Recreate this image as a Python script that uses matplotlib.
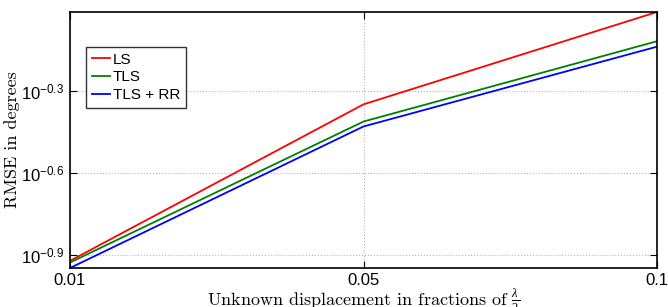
import matplotlib.pyplot as plt
import numpy as np

# valores (RMSE em graus)
displacements = ['0.01', '0.05', '0.1']
rmse_ls = [0.1197, 0.4477, 0.975]
rmse_tls = [0.1180, 0.3873, 0.762]
rmse_tls_rr = [0.1127, 0.3715, 0.728]
ytick_exps = [-0.9, -0.6, -0.3]

plt.rcParams['mathtext.fontset'] = 'custom'
plt.rcParams['mathtext.rm'] = 'Liberation Serif'
plt.rcParams['mathtext.it'] = 'Liberation Serif:italic'
plt.rcParams['mathtext.sf'] = 'Liberation Sans'
plt.rcParams['font.family'] = 'Liberation Sans'

fig = plt.figure(figsize=(6.68, 3.07), dpi=100)
ax = fig.add_axes([70 / 668, 1 - 268 / 307, 587 / 668, 256 / 307])

x = np.arange(len(displacements))
ax.plot(x, rmse_ls, color='#ff0000', lw=1.3, label='LS')
ax.plot(x, rmse_tls, color='#008000', lw=1.3, label='TLS')
ax.plot(x, rmse_tls_rr, color='#0000ff', lw=1.3, label='TLS + RR')

ax.set_yscale('log')
ax.set_xlim(x[0], x[-1])
ax.set_ylim(min(rmse_tls_rr), max(rmse_ls))
ax.set_xticks(x)
ax.set_xticklabels(displacements)
ax.set_yticks([10 ** e for e in ytick_exps])
ax.set_yticklabels([r'$\mathsf{10^{%s}}$' % e for e in ytick_exps])
ax.yaxis.set_minor_locator(plt.NullLocator())
ax.tick_params(direction='in', top=True, right=True, labelsize=12, length=5, width=0.8)
ax.tick_params(axis='y', pad=4)
ax.grid(True, ls=':', color='#b8b8b8', lw=0.8)
for s in ax.spines.values():
    s.set_linewidth(1.2)

ax.set_ylabel('RMSE in degrees', fontsize=13, family='cmr10')
ax.yaxis.set_label_coords(-0.085, 0.5)
ax.set_xlabel(r'Unknown displacement in fractions of $\frac{\lambda}{2}$', fontsize=13, family='cmr10')
ax.xaxis.set_label_coords(0.5, -0.072)

leg = ax.legend(loc='upper left', bbox_to_anchor=(0.027, 0.865), fontsize=11, frameon=True,
                fancybox=False, edgecolor='black', handlelength=1.2, handletextpad=0.15,
                borderpad=0.4, labelspacing=0.25, borderaxespad=0)
leg.get_frame().set_linewidth(1.0)

fig.savefig('out.png', dpi=100)
